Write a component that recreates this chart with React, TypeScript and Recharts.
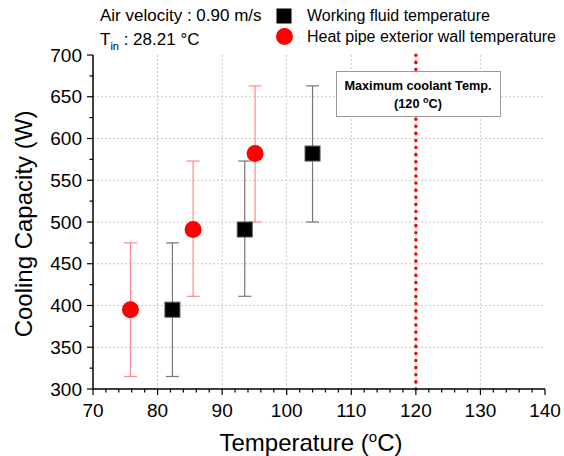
import { CartesianGrid, ErrorBar, ReferenceLine, Scatter, ScatterChart, XAxis, YAxis } from 'recharts';

const FONT = '"Liberation Sans", Arial, sans-serif';

// temperatures (deg C)
const wallTemp = [75.8, 85.5, 95.1];
const fluidTemp = [82.3, 93.5, 104.0];
// cooling capacity (W) and error bar extents
const capacity = [395, 491, 582];
const errLow = [80, 80, 82];
const errHigh = [80, 82, 81];

const xMajor = [70, 80, 90, 100, 110, 120, 130, 140];
const yMajor = [300, 350, 400, 450, 500, 550, 600, 650, 700];
const xGrid = [80, 90, 100, 110, 120, 130];
const yGrid = [350, 400, 450, 500, 550, 600, 650];
const maxCoolant = 120;

// minor ticks: every 2 deg on x, every 25 W on y
const xTicks: number[] = [];
for (let v = 70; v <= 140; v += 2) xTicks.push(v);
const yTicks: number[] = [];
for (let v = 300; v <= 700; v += 25) yTicks.push(v);

const wallData = wallTemp.map((t, i) => ({ t, cap: capacity[i], err: [errLow[i], errHigh[i]] }));
const fluidData = fluidTemp.map((t, i) => ({ t, cap: capacity[i], err: [errLow[i], errHigh[i]] }));

const BottomTick = (props: any) => {
    const { x, y, payload } = props;
    const major = xMajor.includes(payload.value);
    return (
        <g>
            <line x1={x} y1={y} x2={x} y2={y + (major ? 6 : 3.5)} stroke='#000' strokeWidth={1.2} />
            {major && (
                <text x={x} y={y + 28} textAnchor='middle' fontSize={19} fontFamily={FONT} fill='#000'>
                    {payload.value}
                </text>
            )}
        </g>
    );
};

const TopTick = (props: any) => {
    const { x, y, payload } = props;
    const major = xMajor.includes(payload.value);
    return <line x1={x} y1={y} x2={x} y2={y + (major ? 6 : 3.5)} stroke='#000' strokeWidth={1.2} />;
};

const LeftTick = (props: any) => {
    const { x, y, payload } = props;
    const major = yMajor.includes(payload.value);
    return (
        <g>
            <line x1={x} y1={y} x2={x - (major ? 6 : 3.5)} y2={y} stroke='#000' strokeWidth={1.2} />
            {major && (
                <text x={x - 11} y={y} textAnchor='end' dominantBaseline='central' fontSize={19} fontFamily={FONT} fill='#000'>
                    {payload.value}
                </text>
            )}
        </g>
    );
};

const RightTick = (props: any) => {
    const { x, y, payload } = props;
    const major = yMajor.includes(payload.value);
    return <line x1={x} y1={y} x2={x - (major ? 6 : 3.5)} y2={y} stroke='#000' strokeWidth={1.2} />;
};

const RedDot = (props: any) => <circle cx={props.cx} cy={props.cy} r={8.5} fill='#ff0000' />;
const BlackSquare = (props: any) => (
    <rect x={props.cx - 7.5} y={props.cy - 7.5} width={15} height={15} fill='#000' stroke='#555' strokeWidth={1} />
);

export default function App() {
    return (
        <div style={{ position: 'absolute', left: 0, top: 0, width: 564, height: 456, background: '#fff' }}>
            <ScatterChart width={564} height={456} margin={{ top: 55, right: 19, bottom: 37, left: 33 }}>
                <CartesianGrid
                    xAxisId='x'
                    yAxisId='y'
                    verticalValues={xGrid}
                    horizontalValues={yGrid}
                    stroke='#c8c8c8'
                    strokeDasharray='2 2'
                />
                <XAxis
                    xAxisId='x'
                    dataKey='t'
                    type='number'
                    domain={[70, 140]}
                    ticks={xTicks}
                    interval={0}
                    height={30}
                    tickSize={0}
                    tickMargin={0}
                    tickLine={false}
                    tick={BottomTick}
                    axisLine={{ stroke: '#000', strokeWidth: 1.5 }}
                />
                <XAxis
                    xAxisId='top'
                    orientation='top'
                    type='number'
                    domain={[70, 140]}
                    ticks={xTicks}
                    interval={0}
                    height={0}
                    tickSize={0}
                    tickMargin={0}
                    tickLine={false}
                    tick={TopTick}
                    axisLine={{ stroke: '#000', strokeWidth: 1.5 }}
                />
                <YAxis
                    yAxisId='y'
                    dataKey='cap'
                    type='number'
                    domain={[300, 700]}
                    ticks={yTicks}
                    interval={0}
                    width={60}
                    tickSize={0}
                    tickMargin={0}
                    tickLine={false}
                    tick={LeftTick}
                    axisLine={{ stroke: '#000', strokeWidth: 1.5 }}
                />
                <YAxis
                    yAxisId='right'
                    orientation='right'
                    type='number'
                    domain={[300, 700]}
                    ticks={yTicks}
                    interval={0}
                    width={0}
                    tickSize={0}
                    tickMargin={0}
                    tickLine={false}
                    tick={RightTick}
                    axisLine={{ stroke: '#000', strokeWidth: 1.5 }}
                />
                <ReferenceLine
                    xAxisId='x'
                    yAxisId='y'
                    x={maxCoolant}
                    stroke='#ff0000'
                    strokeWidth={3.5}
                    strokeDasharray='0.1 7'
                    strokeLinecap='round'
                />
                <Scatter data={fluidData} xAxisId='x' yAxisId='y' dataKey='cap' shape={BlackSquare} isAnimationActive={false}>
                    <ErrorBar dataKey='err' direction='y' width={6.5} stroke='#777' strokeWidth={1.2} isAnimationActive={false} />
                </Scatter>
                <Scatter data={wallData} xAxisId='x' yAxisId='y' dataKey='cap' shape={RedDot} isAnimationActive={false}>
                    <ErrorBar dataKey='err' direction='y' width={6.5} stroke='#ff8a8a' strokeWidth={1.2} isAnimationActive={false} />
                </Scatter>
            </ScatterChart>
            <svg width={564} height={456} style={{ position: 'absolute', left: 0, top: 0, pointerEvents: 'none' }} fontFamily={FONT}>
                {/* legend block */}
                <text x={100} y={21} fontSize={17} fill='#000'>Air velocity : 0.90 m/s</text>
                <text x={100} y={45} fontSize={17} fill='#000'>
                    T<tspan dy={5} fontSize={11}>in</tspan>
                    <tspan dy={-5}> : 28.21 °C</tspan>
                </text>
                <rect x={276.5} y={8.5} width={15} height={15} fill='#000' />
                <text x={307} y={21} fontSize={16} fill='#000'>Working fluid temperature</text>
                <circle cx={284.5} cy={36.5} r={8.5} fill='#ff0000' />
                <text x={307} y={42} fontSize={16} fill='#000'>Heat pipe exterior wall temperature</text>

                {/* annotation */}
                <rect x={336.5} y={71.5} width={164} height={45} fill='#fff' stroke='#999' strokeWidth={1} />
                <text x={418} y={90} textAnchor='middle' fontSize={12.7} fontWeight='bold' fill='#000'>
                    Maximum coolant Temp.
                </text>
                <text x={418} y={108} textAnchor='middle' fontSize={12.7} fontWeight='bold' fill='#000'>
                    (120 <tspan dy={-5} fontSize={9}>o</tspan>
                    <tspan dy={5}>C)</tspan>
                </text>

                {/* axis titles */}
                <text x={311} y={451} textAnchor='middle' fontSize={24} fill='#000'>
                    Temperature (<tspan dy={-9} fontSize={15}>o</tspan>
                    <tspan dy={9}>C)</tspan>
                </text>
                <text
                    x={23}
                    y={224}
                    textAnchor='middle'
                    dominantBaseline='central'
                    fontSize={24}
                    fill='#000'
                    transform='rotate(-90 23 224)'
                >
                    Cooling Capacity (W)
                </text>
            </svg>
        </div>
    );
}
